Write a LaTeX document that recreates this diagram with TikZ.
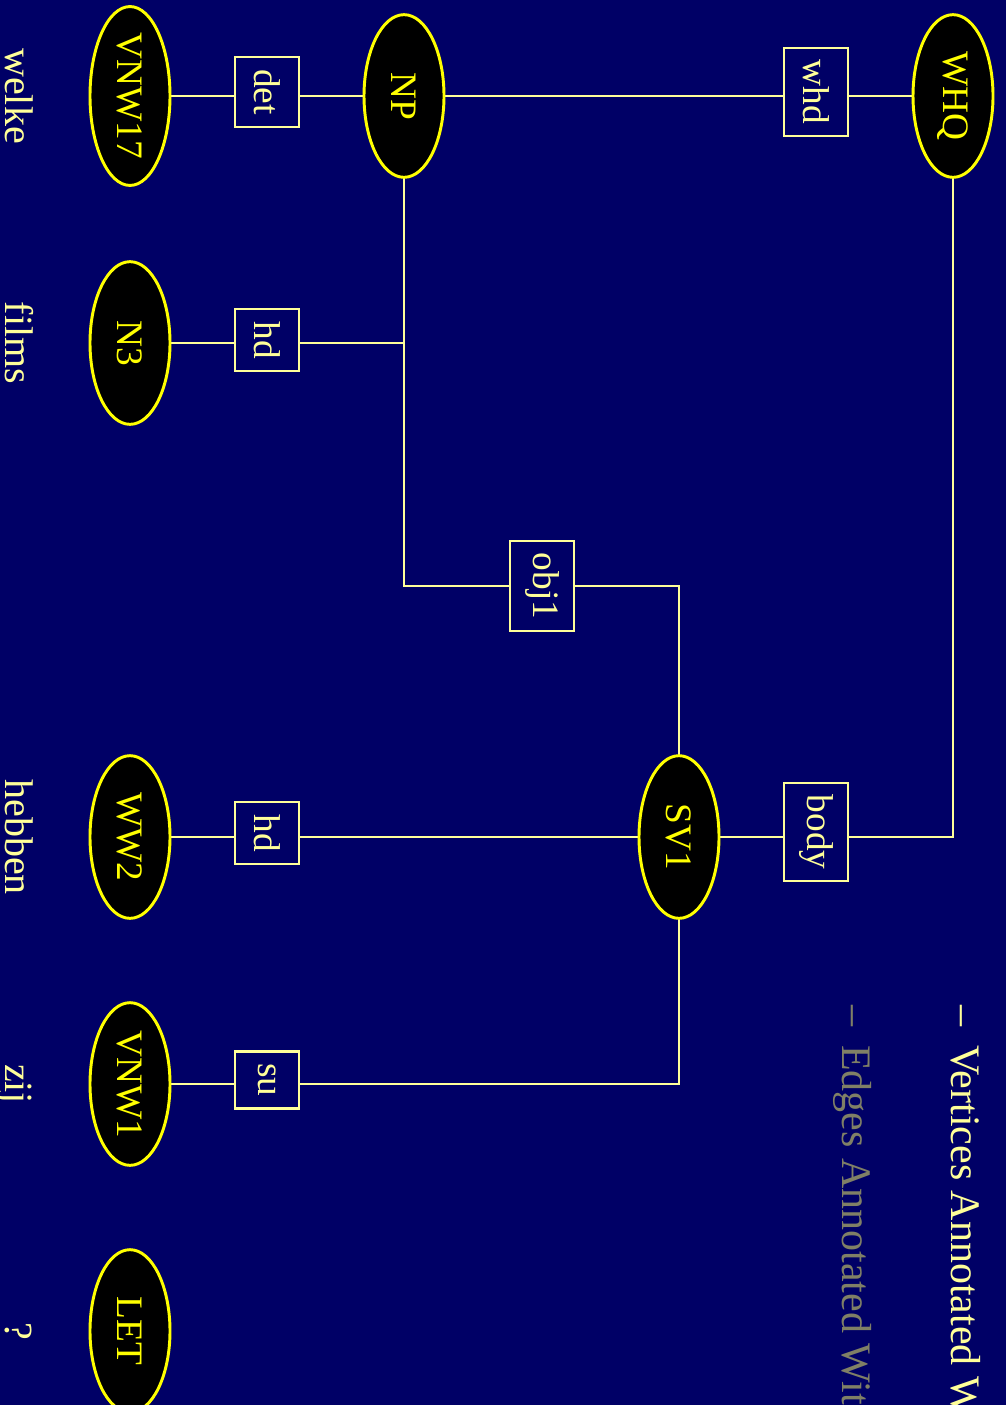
\documentclass[tikz,border=0pt]{standalone}
\usepackage{fontspec}
\setmainfont{Liberation Serif}
\usepackage{tikz}
\usetikzlibrary{shapes.geometric,backgrounds}
\definecolor{slidebg}{RGB}{0,0,102}
\definecolor{nodeyellow}{RGB}{255,255,0}
\definecolor{paleyellow}{RGB}{255,255,153}
\definecolor{legendgray}{RGB}{128,128,102}
\newcommand{\slidefont}{\fontsize{28}{30}\selectfont}
\newcommand{\wordfont}{\fontsize{30}{32}\selectfont}
\newcommand{\legendfont}{\fontsize{31.5}{34}\selectfont}
\tikzset{
  catnode/.style={ellipse, draw=nodeyellow, fill=black, line width=2.2pt, text=nodeyellow,
    minimum width=122pt, minimum height=60pt, inner sep=0pt, rotate=-90, font=\slidefont},
  relbox/.style={rectangle, draw=paleyellow, fill=slidebg, line width=1.7pt, text=paleyellow,
    minimum height=48pt, inner xsep=9pt, inner ysep=0pt, rotate=-90, font=\slidefont},
  wordlabel/.style={text=paleyellow, anchor=base, inner sep=0pt, rotate=-90, font=\wordfont},
  legendtext/.style={anchor=base west, inner sep=0pt, rotate=-90, font=\legendfont},
  treeline/.style={draw=paleyellow, line width=1.8pt},
}

\begin{document}
\begin{tikzpicture}[x=0.75pt, y=-0.75pt]
  % slide area, fixes the page size
  \clip (0,0) rectangle (1006,1405);

  % category vertices
  \node[catnode] (whq) at (953,96) {WHQ};
  \node[catnode] (np) at (404,96) {NP};
  \node[catnode] (sv1) at (679,837) {SV1};
  \node[catnode] (vnw17) at (130,96) {VNW17};
  \node[catnode] (n3) at (130,343) {N3};
  \node[catnode] (ww2) at (130,837) {WW2};
  \node[catnode] (vnw1) at (130,1084) {VNW1};
  \node[catnode] (let) at (130,1331) {LET};

  % edge labels
  \node[relbox] (whd) at (816,92) {whd};
  \node[relbox] (body) at (816,832) {body};
  \node[relbox] (obj1) at (542,586) {obj1};
  \node[relbox] (det) at (267,92) {det};
  \node[relbox] (hdn) at (267,340) {hd};
  \node[relbox] (hdww) at (267,833) {hd};
  \node[relbox] (su) at (267,1080) {su};

  % words of the sentence
  \node[wordlabel] (welke) at (6,96) {welke};
  \node[wordlabel] (films) at (6,343) {films};
  \node[wordlabel] (hebben) at (6,837) {hebben};
  \node[wordlabel] (zij) at (6,1084) {zij};
  \node[wordlabel] (qmark) at (6,1331) {?};

  % connectors, behind the nodes
  \begin{scope}[on background layer]
    \fill[slidebg] (0,0) rectangle (1006,1405);
    \draw[treeline] (whq.center) -- (np.center) -- (vnw17.center);
    \draw[treeline] (whq.center) |- (sv1.center);
    \draw[treeline] (np.center) |- (n3.center);
    \draw[treeline] (np.center) |- (obj1.center) -| (sv1.center);
    \draw[treeline] (sv1.center) -- (ww2.center);
    \draw[treeline] (sv1.center) |- (vnw1.center);
  \end{scope}

  % legend
  \node[legendtext, text=paleyellow] (vlegend) at (951,1005) {--\hspace{0.2em} Vertices Annotated With};
  \node[legendtext, text=legendgray] (elegend) at (842,1005) {--\hspace{0.2em} Edges Annotated With};
\end{tikzpicture}
\end{document}
